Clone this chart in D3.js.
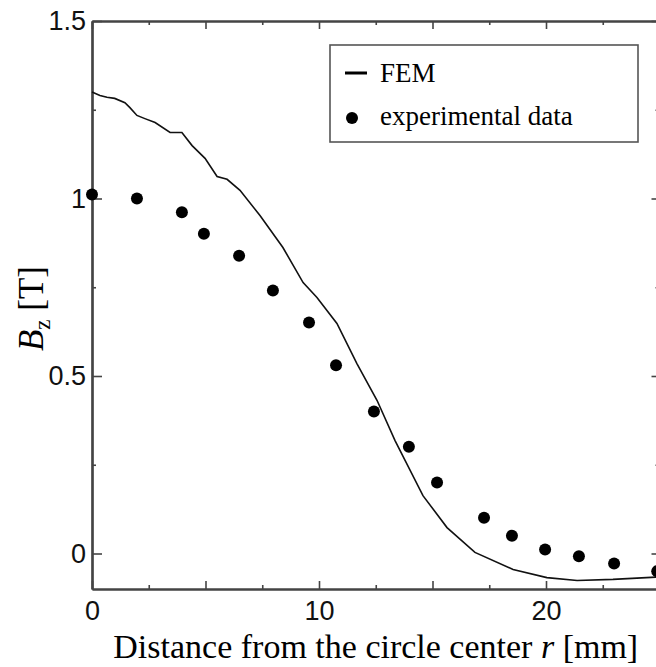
<!DOCTYPE html>
<html>
<head>
<meta charset="utf-8">
<script src="https://cdn.jsdelivr.net/npm/d3@7"></script>
<style>
  body { margin: 0; background: #fff; }
  svg { display: block; }
  .tick text { font-family: "Liberation Sans", Arial, sans-serif; font-size: 27px; fill: #111; }
  .axis path, .axis line { stroke: #444; }
</style>
</head>
<body>
<div class="chart"></div>
<script>
/* Bz along the radius: FEM result vs. measured points */

// FEM curve
var femR = [0, 0.35, 0.66, 1.0, 1.45, 1.67, 1.98, 2.33, 2.78, 3.44, 3.96, 4.41, 4.98, 5.51, 5.95, 6.52,
            7.4, 8.41, 9.3, 9.91, 10.79, 11.67, 12.56, 13.35, 14.58, 15.64, 16.87, 18.55, 20.04, 21.37, 22.95, 25.0];
var femB = [1.30, 1.29, 1.285, 1.282, 1.27, 1.256, 1.234, 1.225, 1.214, 1.186, 1.186, 1.149, 1.113, 1.062, 1.054, 1.023,
            0.952, 0.862, 0.763, 0.721, 0.648, 0.535, 0.431, 0.318, 0.163, 0.073, 0.003, -0.045, -0.068, -0.076, -0.073, -0.066];

// experimental data
var expR = [0, 1.98, 3.96, 4.93, 6.48, 7.97, 9.56, 10.75, 12.42, 13.96, 15.2, 17.27, 18.5, 19.96, 21.45, 23.0, 24.9];
var expB = [1.011, 1.0, 0.961, 0.901, 0.839, 0.741, 0.651, 0.530, 0.400, 0.301, 0.200, 0.101, 0.05, 0.011, -0.008, -0.028, -0.05];

// ticks
var xMajor = [0, 5, 10, 15, 20, 25];
var xMinor = [2.5, 7.5, 12.5, 17.5, 22.5];
var xLabels = [0, 10, 20];
var yMajor = [0, 0.5, 1, 1.5];
var yMinor = [0.25, 0.75, 1.25];
var legendLabels = ["FEM", "experimental data"];

drawChart();

function drawChart() {

  var W = 656, H = 667;
  var margin = {top: 21, right: 0, bottom: 78, left: 92},
      width = 567.5,
      height = 568;

  var svg = d3.select(".chart")
      .append("svg")
      .attr("width", W)
      .attr("height", H);

  var x = d3.scaleLinear().domain([0, 25]).range([margin.left, margin.left + width]);
  var y = d3.scaleLinear().domain([-0.1, 1.5]).range([margin.top + height, margin.top]);

  var fmt = function (d) { return d === 0 ? "0" : d3.format("")(d); };

  // minor ticks first, all pointing in
  var axes = [
    {ax: d3.axisBottom(x), t: "translate(0," + y(-0.1) + ")", v: xMinor, s: -4},
    {ax: d3.axisTop(x), t: "translate(0," + y(1.5) + ")", v: xMinor, s: -4},
    {ax: d3.axisLeft(y), t: "translate(" + x(0) + ",0)", v: yMinor, s: -4},
    {ax: d3.axisRight(y), t: "translate(" + x(25) + ",0)", v: yMinor, s: -4},
    {ax: d3.axisBottom(x), t: "translate(0," + y(-0.1) + ")", v: xMajor, s: -8, lab: xLabels, pad: 12},
    {ax: d3.axisTop(x), t: "translate(0," + y(1.5) + ")", v: xMajor, s: -8},
    {ax: d3.axisLeft(y), t: "translate(" + x(0) + ",0)", v: yMajor, s: -10, lab: yMajor, pad: 6},
    {ax: d3.axisRight(y), t: "translate(" + x(25) + ",0)", v: yMajor, s: -8}
  ];

  axes.forEach(function (a) {
    var lab = a.lab;
    a.ax.tickValues(a.v)
      .tickSizeInner(a.s)
      .tickSizeOuter(0)
      .tickPadding(a.pad || 0)
      .tickFormat(function (d) { return lab && lab.indexOf(d) >= 0 ? fmt(d) : ""; });
    var g = svg.append("g")
      .attr("class", "axis")
      .attr("transform", a.t)
      .call(a.ax);
    g.select(".domain").attr("stroke-width", 2.2);
    g.selectAll(".tick line").attr("stroke-width", 1.6);
  });

  // FEM curve
  var line = d3.line()
      .x(function (d) { return x(d[0]); })
      .y(function (d) { return y(d[1]); });

  svg.append("path")
    .datum(d3.zip(femR, femB))
    .attr("fill", "none")
    .attr("stroke", "#111")
    .attr("stroke-width", 1.6)
    .attr("d", line);

  // measured points
  svg.append("g")
    .selectAll("circle")
    .data(d3.zip(expR, expB))
    .enter()
    .append("circle")
    .attr("cx", function (d) { return x(d[0]); })
    .attr("cy", function (d) { return y(d[1]); })
    .attr("r", 6)
    .attr("fill", "#000");

  // legend
  var lg = svg.append("g").attr("transform", "translate(330,45)");
  lg.append("rect")
    .attr("width", 308)
    .attr("height", 97)
    .attr("fill", "#fff")
    .attr("stroke", "#555")
    .attr("stroke-width", 1.6);
  lg.append("line")
    .attr("x1", 15).attr("x2", 37)
    .attr("y1", 28).attr("y2", 28)
    .attr("stroke", "#000")
    .attr("stroke-width", 3);
  lg.append("circle")
    .attr("cx", 22).attr("cy", 73).attr("r", 6)
    .attr("fill", "#000");
  lg.selectAll("text.lab")
    .data(legendLabels)
    .enter()
    .append("text")
    .attr("class", "lab")
    .attr("x", 50)
    .attr("y", function (d, i) { return 37 + i * 43; })
    .style("font-family", "'Liberation Serif', 'Times New Roman', serif")
    .style("font-size", "27px")
    .text(function (d) { return d; });

  // axis titles
  var xt = svg.append("text")
    .attr("x", x(12.5))
    .attr("y", 658)
    .attr("text-anchor", "middle")
    .style("font-family", "'Liberation Serif', 'Times New Roman', serif")
    .style("font-size", "34px");
  xt.append("tspan").text("Distance from the circle center ");
  xt.append("tspan").style("font-style", "italic").text("r");
  xt.append("tspan").text(" [mm]");

  var yt = svg.append("text")
    .attr("transform", "translate(43," + y(0.69) + ") rotate(-90)")
    .attr("text-anchor", "middle")
    .style("font-family", "'Liberation Serif', 'Times New Roman', serif")
    .style("font-size", "35px");
  yt.append("tspan").style("font-style", "italic").text("B");
  yt.append("tspan").attr("dy", 7).style("font-size", "23px").text("z");
  yt.append("tspan").attr("dy", -7).text(" [T]");

}
</script>
</body>
</html>
